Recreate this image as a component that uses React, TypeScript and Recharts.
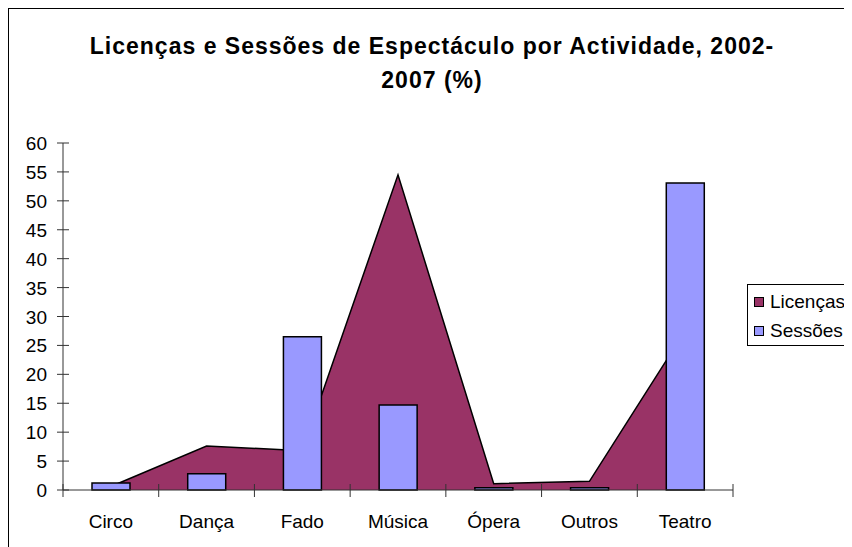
import { ComposedChart, Area, Bar, XAxis, YAxis } from 'recharts';

const categories = ['Circo', 'Dança', 'Fado', 'Música', 'Ópera', 'Outros', 'Teatro'];
const licencas = [0.6, 7.6, 6.8, 54.5, 1.1, 1.5, 27.5];
const sessoes = [1.2, 2.8, 26.5, 14.7, 0.4, 0.4, 53.1];
const yTicks = [0, 5, 10, 15, 20, 25, 30, 35, 40, 45, 50, 55, 60];

const data = categories.map((c, i) => ({ name: c, Licenças: licencas[i], Sessões: sessoes[i] }));

const FONT = '"Liberation Sans", Arial, sans-serif';
const PLOT_LEFT = 54;
const PLOT_W = 670;
const PLOT_BOTTOM = 481;
const BAND = PLOT_W / categories.length;

function YTick(props: any) {
  const { y, payload } = props;
  return (
    <g>
      <line x1={PLOT_LEFT - 6} x2={PLOT_LEFT + 6} y1={y} y2={y} stroke="#333" />
      <text x={PLOT_LEFT - 16} y={y} dy={7} textAnchor="end" fontSize={19} fontFamily={FONT} fill="#000">
        {payload.value}
      </text>
    </g>
  );
}

function XTick(props: any) {
  const { x, payload, index } = props;
  const left = x - BAND / 2;
  return (
    <g>
      <line x1={left} x2={left} y1={PLOT_BOTTOM - 6} y2={PLOT_BOTTOM + 7} stroke="#333" />
      {index === categories.length - 1 && (
        <line x1={x + BAND / 2} x2={x + BAND / 2} y1={PLOT_BOTTOM - 6} y2={PLOT_BOTTOM + 7} stroke="#333" />
      )}
      <text x={x} y={PLOT_BOTTOM + 38} textAnchor="middle" fontSize={19} fontFamily={FONT} fill="#000">
        {payload.value}
      </text>
    </g>
  );
}

function LegendBox() {
  const items = [
    { label: 'Licenças', color: '#993366' },
    { label: 'Sessões', color: '#9999FF' },
  ];
  return (
    <div style={{ position: 'absolute', left: 738, top: 275, width: 140, height: 62, border: '1px solid #000', background: '#fff', padding: '2px 0 0 6px', fontFamily: FONT, fontSize: 19, boxSizing: 'border-box' }}>
      {items.map(it => (
        <div key={it.label} style={{ display: 'flex', alignItems: 'center', height: 29 }}>
          <span style={{ width: 8, height: 8, background: it.color, border: '1px solid #000', marginRight: 6, flexShrink: 0 }} />
          <span style={{ whiteSpace: 'nowrap' }}>{it.label}</span>
        </div>
      ))}
    </div>
  );
}

export default function App() {
  return (
    <div style={{ width: 843, height: 538, overflow: 'hidden', borderLeft: '1px solid #000', borderTop: '1px solid #000', position: 'relative', background: '#fff' }}>
      <div style={{ position: 'absolute', left: 0, width: 846, top: 20, textAlign: 'center', fontFamily: FONT, fontWeight: 'bold', fontSize: 23, letterSpacing: 1, lineHeight: '34px' }}>
        Licenças e Sessões de Espectáculo por Actividade, 2002-<br />2007 (%)
      </div>
      <ComposedChart width={900} height={539} data={data} margin={{ top: 134, right: 176, bottom: 18, left: 0 }} barCategoryGap={0}>
        <XAxis dataKey="name" axisLine={{ stroke: '#333' }} tickLine={false} tick={<XTick />} interval={0} height={40} />
        <YAxis domain={[0, 60]} ticks={yTicks} axisLine={{ stroke: '#333' }} tickLine={false} tick={<YTick />} width={54} interval={0} />
        <Area type="linear" dataKey="Licenças" fill="#993366" fillOpacity={1} stroke="#000" strokeWidth={1.5} isAnimationActive={false} />
        <Bar dataKey="Sessões" fill="#9999FF" stroke="#000" strokeWidth={1.5} barSize={38} isAnimationActive={false} />
      </ComposedChart>
      <LegendBox />
    </div>
  );
}
